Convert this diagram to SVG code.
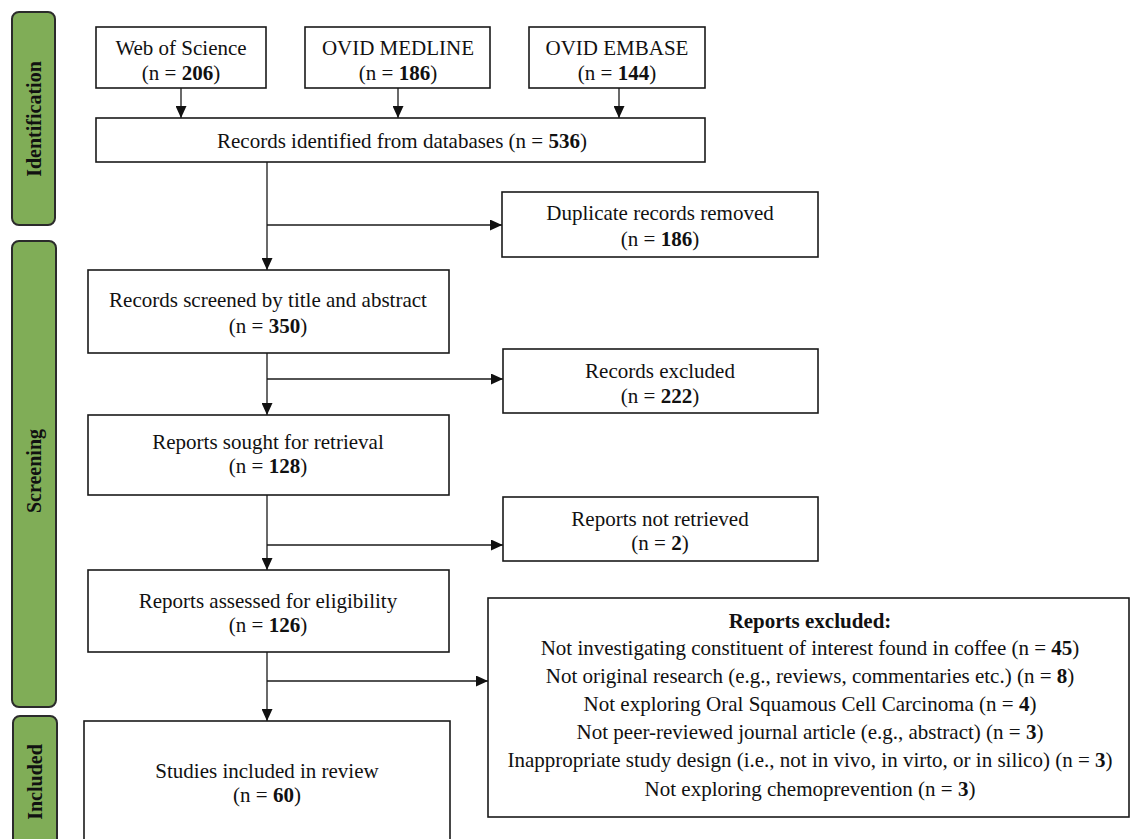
<svg xmlns="http://www.w3.org/2000/svg" width="1131" height="839" viewBox="0 0 1131 839">
<style>
.box{fill:#fff;stroke:#1a1a1a;stroke-width:1.6}
.phase{fill:#80ad57;stroke:#2b2b2b;stroke-width:2}
.t{font-family:"Liberation Serif","Times New Roman",serif;font-size:21px;fill:#111;text-anchor:middle}
.pt{font-family:"Liberation Serif","Times New Roman",serif;font-size:20px;font-weight:bold;fill:#111;text-anchor:middle}
.b{font-weight:bold}
.ln{fill:none;stroke:#1a1a1a;stroke-width:1.3}
</style>
<defs>
<marker id="ah" markerUnits="userSpaceOnUse" markerWidth="12" markerHeight="11" refX="12" refY="5.5" orient="auto">
<path d="M0,0 L12,5.5 L0,11 z" fill="#111"/>
</marker>
</defs>
<rect width="1131" height="839" fill="#fff"/>

<g id="phase-identification">
<rect class="phase" x="12" y="12" width="43" height="213" rx="7"/>
<text class="pt" transform="translate(40.5,119) rotate(-90)">Identification</text>
</g>
<g id="phase-screening">
<rect class="phase" x="12" y="241" width="44" height="466" rx="7"/>
<text class="pt" transform="translate(41,471) rotate(-90)">Screening</text>
</g>
<g id="phase-included">
<rect class="phase" x="13" y="716" width="44" height="140" rx="7"/>
<text class="pt" transform="translate(42,782) rotate(-90)">Included</text>
</g>

<g id="connectors">
<line class="ln" x1="181" y1="88" x2="181" y2="118" marker-end="url(#ah)"/>
<line class="ln" x1="398" y1="88" x2="398" y2="118" marker-end="url(#ah)"/>
<line class="ln" x1="619" y1="88" x2="619" y2="118" marker-end="url(#ah)"/>
<line class="ln" x1="267" y1="162" x2="267" y2="270" marker-end="url(#ah)"/>
<line class="ln" x1="267" y1="225" x2="502" y2="225" marker-end="url(#ah)"/>
<line class="ln" x1="267" y1="353" x2="267" y2="415" marker-end="url(#ah)"/>
<line class="ln" x1="267" y1="379" x2="503" y2="379" marker-end="url(#ah)"/>
<line class="ln" x1="267" y1="495" x2="267" y2="570" marker-end="url(#ah)"/>
<line class="ln" x1="267" y1="545" x2="503" y2="545" marker-end="url(#ah)"/>
<line class="ln" x1="267" y1="652" x2="267" y2="721" marker-end="url(#ah)"/>
<line class="ln" x1="267" y1="681" x2="488" y2="681" marker-end="url(#ah)"/>
</g>

<g id="wos">
<rect class="box" x="96" y="27" width="170" height="61"/>
<text class="t" x="181" y="55">Web of Science</text>
<text class="t" x="181" y="80">(n = <tspan class="b">206</tspan>)</text>
</g>
<g id="medline">
<rect class="box" x="305" y="27" width="185" height="61"/>
<text class="t" x="398" y="55">OVID MEDLINE</text>
<text class="t" x="398" y="80">(n = <tspan class="b">186</tspan>)</text>
</g>
<g id="embase">
<rect class="box" x="529" y="27" width="176" height="61"/>
<text class="t" x="617" y="55">OVID EMBASE</text>
<text class="t" x="617" y="80">(n = <tspan class="b">144</tspan>)</text>
</g>
<g id="identified">
<rect class="box" x="96" y="118" width="609" height="44"/>
<text class="t" x="402" y="148">Records identified from databases (n = <tspan class="b">536</tspan>)</text>
</g>
<g id="duplicates">
<rect class="box" x="502" y="192" width="316" height="65"/>
<text class="t" x="660" y="220">Duplicate records removed</text>
<text class="t" x="660" y="246">(n = <tspan class="b">186</tspan>)</text>
</g>
<g id="screened">
<rect class="box" x="88" y="270" width="361" height="83"/>
<text class="t" x="268" y="307">Records screened by title and abstract</text>
<text class="t" x="268" y="333">(n = <tspan class="b">350</tspan>)</text>
</g>
<g id="records-excluded">
<rect class="box" x="503" y="349" width="315" height="64"/>
<text class="t" x="660" y="378">Records excluded</text>
<text class="t" x="660" y="403">(n = <tspan class="b">222</tspan>)</text>
</g>
<g id="sought">
<rect class="box" x="88" y="415" width="361" height="80"/>
<text class="t" x="268" y="449">Reports sought for retrieval</text>
<text class="t" x="268" y="473">(n = <tspan class="b">128</tspan>)</text>
</g>
<g id="not-retrieved">
<rect class="box" x="503" y="497" width="315" height="64"/>
<text class="t" x="660" y="526">Reports not retrieved</text>
<text class="t" x="660" y="550">(n = <tspan class="b">2</tspan>)</text>
</g>
<g id="assessed">
<rect class="box" x="88" y="570" width="361" height="82"/>
<text class="t" x="268" y="608">Reports assessed for eligibility</text>
<text class="t" x="268" y="632">(n = <tspan class="b">126</tspan>)</text>
</g>
<g id="reports-excluded">
<rect class="box" x="488" y="598" width="641" height="219"/>
<text class="t b" x="810" y="628">Reports excluded:</text>
<text class="t" x="810" y="655">Not investigating constituent of interest found in coffee (n = <tspan class="b">45</tspan>)</text>
<text class="t" x="810" y="683">Not original research (e.g., reviews, commentaries etc.) (n = <tspan class="b">8</tspan>)</text>
<text class="t" x="810" y="711">Not exploring Oral Squamous Cell Carcinoma (n = <tspan class="b">4</tspan>)</text>
<text class="t" x="810" y="739">Not peer-reviewed journal article (e.g., abstract) (n = <tspan class="b">3</tspan>)</text>
<text class="t" x="810" y="767">Inappropriate study design (i.e., not in vivo, in virto, or in silico) (n = <tspan class="b">3</tspan>)</text>
<text class="t" x="810" y="796">Not exploring chemoprevention (n = <tspan class="b">3</tspan>)</text>
</g>
<g id="included">
<rect class="box" x="84" y="721" width="366" height="140"/>
<text class="t" x="267" y="778">Studies included in review</text>
<text class="t" x="267" y="802">(n = <tspan class="b">60</tspan>)</text>
</g>
</svg>
